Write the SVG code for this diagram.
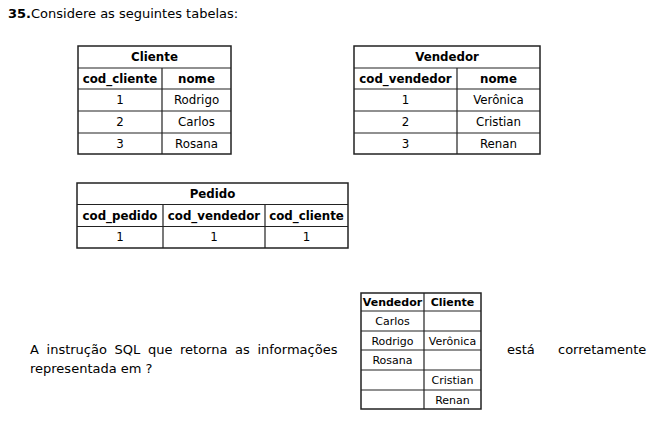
<svg xmlns="http://www.w3.org/2000/svg" width="664" height="426" viewBox="0 0 664 426">
<style>
text{font-family:"DejaVu Sans","Liberation Sans",sans-serif;fill:#000}
.t{font-size:11.8px;text-anchor:middle}
.s{font-size:11px;text-anchor:middle}
.b{font-weight:bold}
.p{font-size:13px}
.g{fill:none;stroke:#222;stroke-width:1.2}
.o{fill:#fff;stroke:#222;stroke-width:1.5}
</style>
<rect width="664" height="426" fill="#fff"/>
<text x="8" y="18" class="p"><tspan class="b">35.</tspan>Considere as seguintes tabelas:</text>

<g id="cliente">
<rect class="o" x="78" y="46" width="153" height="108"/>
<path class="g" d="M78 68H231M78 89H231M78 111H231M78 133H231M162 68V154"/>
<text class="t b" x="154.5" y="61">Cliente</text>
<text class="t b" x="120" y="82.5">cod_cliente</text>
<text class="t b" x="196.5" y="82.5">nome</text>
<text class="t" x="120" y="104">1</text><text class="t" x="196.5" y="104">Rodrigo</text>
<text class="t" x="120" y="126">2</text><text class="t" x="196.5" y="126">Carlos</text>
<text class="t" x="120" y="147.5">3</text><text class="t" x="196.5" y="147.5">Rosana</text>
</g>

<g id="vendedor">
<rect class="o" x="354" y="46" width="186" height="108"/>
<path class="g" d="M354 68H540M354 89H540M354 111H540M354 133H540M457 68V154"/>
<text class="t b" x="447" y="61">Vendedor</text>
<text class="t b" x="405.5" y="82.5">cod_vendedor</text>
<text class="t b" x="498.5" y="82.5">nome</text>
<text class="t" x="405.5" y="104">1</text><text class="t" x="498.5" y="104">Verônica</text>
<text class="t" x="405.5" y="126">2</text><text class="t" x="498.5" y="126">Cristian</text>
<text class="t" x="405.5" y="147.5">3</text><text class="t" x="498.5" y="147.5">Renan</text>
</g>

<g id="pedido">
<rect class="o" x="77" y="183" width="271" height="65"/>
<path class="g" d="M77 204.5H348M77 226.5H348M163 204.5V248M265 204.5V248"/>
<text class="t b" x="212.5" y="198">Pedido</text>
<text class="t b" x="120" y="219.5">cod_pedido</text>
<text class="t b" x="214" y="219.5">cod_vendedor</text>
<text class="t b" x="306.5" y="219.5">cod_cliente</text>
<text class="t" x="120" y="241">1</text>
<text class="t" x="214" y="241">1</text>
<text class="t" x="306.5" y="241">1</text>
</g>

<g id="resultado">
<rect class="o" x="361" y="293" width="120" height="116"/>
<path class="g" d="M361 311H481M361 331H481M361 350H481M361 370H481M361 390H481M424 293V409"/>
<text class="s b" x="392.5" y="306">Vendedor</text>
<text class="s b" x="452.5" y="306">Cliente</text>
<text class="s" x="392.5" y="325">Carlos</text>
<text class="s" x="392.5" y="344.5">Rodrigo</text><text class="s" x="452.5" y="344.5">Verônica</text>
<text class="s" x="392.5" y="364">Rosana</text>
<text class="s" x="452.5" y="384">Cristian</text>
<text class="s" x="452.5" y="403.5">Renan</text>
</g>

<text class="p" x="30" y="354" word-spacing="3.5">A instrução SQL que retorna as informações</text>
<text class="p" x="30" y="373">representada em ?</text>
<text class="p" x="507" y="354">está</text>
<text class="p" x="558" y="354">corretamente</text>
</svg>
